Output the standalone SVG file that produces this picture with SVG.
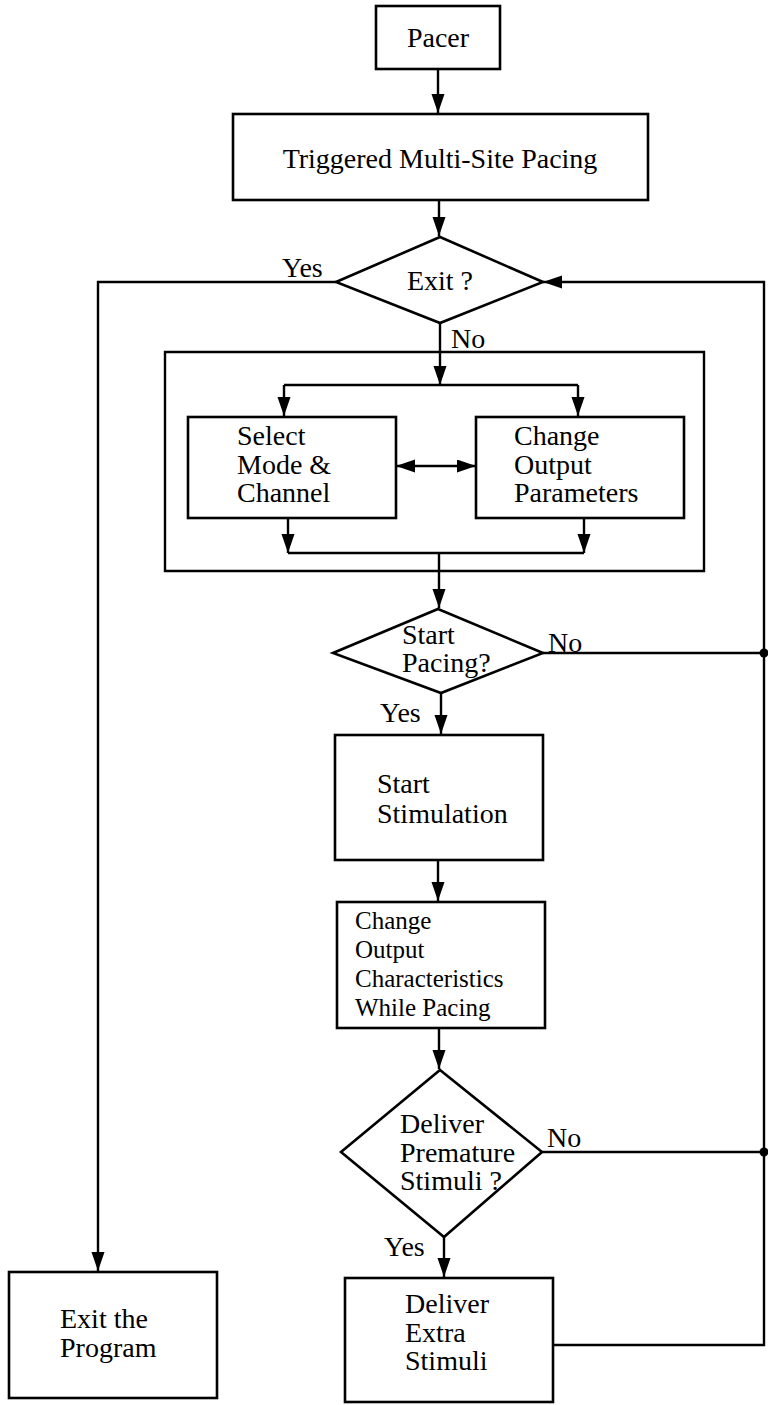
<svg xmlns="http://www.w3.org/2000/svg" width="768" height="1405" viewBox="0 0 768 1405">
<defs>
<marker id="ah" markerUnits="userSpaceOnUse" markerWidth="20" markerHeight="14" refX="19" refY="6.5" orient="auto-start-reverse">
<path d="M0,0 L19,6.5 L0,13 z" fill="#000"/>
</marker>
<style>
.box{fill:#fff;stroke:#000;stroke-width:2.6}
.ln{fill:none;stroke:#000;stroke-width:2.4}
.arr{fill:none;stroke:#000;stroke-width:2.4;marker-end:url(#ah)}
text{font-family:"Liberation Serif","Times New Roman",serif;font-size:28px;fill:#000}
.c{text-anchor:middle}
.s{font-size:25px}
</style>
</defs>
<rect width="768" height="1405" fill="#fff"/>
<g id="connectors">
<path class="arr" d="M438,69 L438,113"/>
<path class="arr" d="M439,200 L439,236"/>
<path class="arr" d="M336,282 L98,282 L98,1271"/>
<path class="arr" d="M553,1345 L764,1345 L764,282 L543,282"/>
<path class="arr" d="M440,323 L440,385"/>
<path class="ln" d="M284,385 L578,385"/>
<path class="arr" d="M284,385 L284,416"/>
<path class="arr" d="M578,385 L578,416"/>
<path class="ln" d="M396,466 L476,466" style="marker-start:url(#ah);marker-end:url(#ah)"/>
<path class="arr" d="M288,518 L288,553"/>
<path class="arr" d="M584,518 L584,553"/>
<path class="ln" d="M288,553 L584,553"/>
<path class="arr" d="M439,553 L439,608"/>
<path class="ln" d="M543,653 L764,653"/>
<circle cx="764" cy="653" r="4.5" fill="#000"/>
<path class="arr" d="M441,693 L441,734"/>
<path class="arr" d="M438,860 L438,901"/>
<path class="arr" d="M439,1028 L439,1069"/>
<path class="ln" d="M542,1152 L764,1152"/>
<circle cx="764" cy="1152" r="4.5" fill="#000"/>
<path class="arr" d="M444,1237 L444,1277"/>
<path class="ln" d="M165,352 L704,352 L704,571 L165,571 Z"/>
</g>
<g id="labels">
<text x="282" y="277">Yes</text>
<text x="451" y="348">No</text>
<text x="548" y="652">No</text>
<text x="380" y="722">Yes</text>
<text x="547" y="1147">No</text>
<text x="384" y="1256">Yes</text>
</g>
<g id="pacer">
<rect class="box" x="376" y="6" width="124" height="63"/>
<text class="c" x="438" y="47">Pacer</text>
</g>
<g id="triggered">
<rect class="box" x="233" y="114" width="415" height="86"/>
<text class="c" x="440" y="168">Triggered Multi-Site Pacing</text>
</g>
<g id="exit-decision">
<polygon class="box" points="440,237 543,282 440,323 336,282"/>
<text class="c" x="440" y="290">Exit ?</text>
</g>
<g id="select-mode">
<rect class="box" x="188" y="417" width="208" height="101"/>
<text x="237" y="445">Select</text>
<text x="237" y="474">Mode &amp;</text>
<text x="237" y="502">Channel</text>
</g>
<g id="change-params">
<rect class="box" x="476" y="417" width="208" height="101"/>
<text x="514" y="445">Change</text>
<text x="514" y="474">Output</text>
<text x="514" y="502">Parameters</text>
</g>
<g id="start-pacing">
<polygon class="box" points="438,609 543,653 441,693 333,653"/>
<text x="402" y="644">Start</text>
<text x="402" y="672">Pacing?</text>
</g>
<g id="start-stimulation">
<rect class="box" x="335" y="735" width="208" height="125"/>
<text x="377" y="793">Start</text>
<text x="377" y="823">Stimulation</text>
</g>
<g id="change-output">
<rect class="box" x="337" y="902" width="208" height="126"/>
<text class="s" x="355" y="929">Change</text>
<text class="s" x="355" y="958">Output</text>
<text class="s" x="355" y="987">Characteristics</text>
<text class="s" x="355" y="1016">While Pacing</text>
</g>
<g id="deliver-premature">
<polygon class="box" points="440,1070 542,1152 444,1237 341,1152"/>
<text x="400" y="1133">Deliver</text>
<text x="400" y="1162">Premature</text>
<text x="400" y="1190">Stimuli ?</text>
</g>
<g id="deliver-extra">
<rect class="box" x="345" y="1278" width="208" height="124"/>
<text x="405" y="1313">Deliver</text>
<text x="405" y="1342">Extra</text>
<text x="405" y="1370">Stimuli</text>
</g>
<g id="exit-program">
<rect class="box" x="9" y="1272" width="208" height="126"/>
<text x="60" y="1328">Exit the</text>
<text x="60" y="1357">Program</text>
</g>
</svg>
